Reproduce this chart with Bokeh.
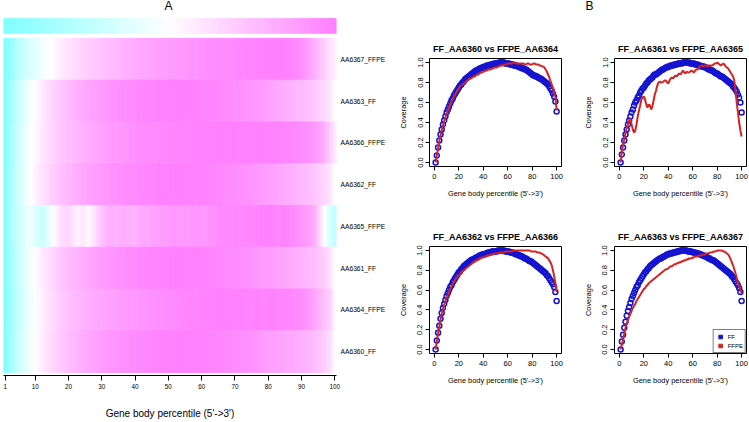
import numpy as np
from bokeh.plotting import figure
from bokeh.models import (ColumnDataSource, LinearColorMapper, FixedTicker, LinearAxis,
                          Range1d, Legend, LegendItem, PrintfTickFormatter)
from bokeh.transform import transform
from bokeh.layouts import row, column
from bokeh.embed import file_html
from bokeh.resources import INLINE
from bokeh.core.properties import value

# ---------------- data ----------------
PERCENTILE = list(range(1, 101))

FF_AA6360 = [0.00,0.07,0.15,0.22,0.28,0.33,0.38,0.42,0.46,0.50,
             0.53,0.56,0.59,0.62,0.64,0.67,0.69,0.71,0.73,0.75,
             0.77,0.78,0.80,0.81,0.83,0.84,0.85,0.86,0.87,0.88,
             0.89,0.90,0.91,0.92,0.92,0.93,0.94,0.94,0.95,0.95,
             0.96,0.96,0.97,0.97,0.97,0.98,0.98,0.98,0.99,0.99,
             0.99,0.99,1.00,1.00,1.00,1.00,1.00,0.99,0.99,0.99,
             0.99,0.98,0.98,0.98,0.97,0.97,0.97,0.96,0.96,0.95,
             0.95,0.94,0.94,0.93,0.93,0.92,0.91,0.90,0.89,0.88,
             0.87,0.87,0.86,0.86,0.85,0.84,0.84,0.83,0.82,0.81,
             0.80,0.79,0.78,0.76,0.74,0.72,0.69,0.66,0.61,0.51]

FFPE_AA6364 = [0.00,0.07,0.14,0.21,0.27,0.32,0.37,0.41,0.45,0.49,
               0.52,0.55,0.58,0.61,0.63,0.66,0.68,0.70,0.72,0.74,
               0.76,0.77,0.78,0.79,0.80,0.81,0.82,0.83,0.84,0.84,
               0.85,0.86,0.86,0.87,0.88,0.88,0.89,0.90,0.90,0.91,
               0.91,0.92,0.92,0.93,0.93,0.93,0.94,0.94,0.95,0.95,
               0.95,0.96,0.96,0.97,0.97,0.97,0.98,0.98,0.98,0.99,
               0.99,0.99,0.99,0.99,1.00,1.00,0.99,0.99,0.99,0.99,
               0.99,0.99,0.99,0.98,0.98,0.99,0.99,0.98,0.98,0.98,
               0.99,0.99,0.98,0.98,0.98,0.97,0.97,0.96,0.96,0.95,
               0.93,0.91,0.88,0.85,0.81,0.78,0.74,0.70,0.66,0.52]

FF_AA6361 = [0.00,0.08,0.15,0.22,0.28,0.33,0.38,0.42,0.46,0.50,
             0.53,0.57,0.60,0.62,0.65,0.67,0.70,0.72,0.74,0.75,
             0.77,0.79,0.80,0.82,0.83,0.84,0.85,0.87,0.88,0.88,
             0.89,0.90,0.91,0.92,0.93,0.93,0.94,0.95,0.95,0.96,
             0.96,0.97,0.97,0.97,0.98,0.98,0.98,0.99,0.99,0.99,
             0.99,1.00,1.00,1.00,1.00,1.00,1.00,0.99,0.99,0.99,
             0.99,0.98,0.98,0.98,0.97,0.97,0.96,0.96,0.96,0.95,
             0.95,0.94,0.93,0.93,0.92,0.92,0.91,0.90,0.89,0.89,
             0.88,0.87,0.86,0.86,0.85,0.84,0.83,0.82,0.81,0.80,
             0.79,0.78,0.76,0.75,0.73,0.71,0.68,0.65,0.60,0.50]

FFPE_AA6365 = [0.00,0.10,0.18,0.23,0.30,0.34,0.38,0.42,0.44,0.38,
               0.33,0.30,0.32,0.38,0.46,0.52,0.57,0.63,0.65,0.66,
               0.63,0.58,0.55,0.58,0.57,0.53,0.56,0.62,0.68,0.72,
               0.77,0.80,0.81,0.80,0.80,0.81,0.82,0.82,0.80,0.79,
               0.82,0.84,0.85,0.84,0.86,0.87,0.86,0.88,0.89,0.88,
               0.90,0.92,0.90,0.89,0.91,0.90,0.90,0.91,0.92,0.91,
               0.90,0.92,0.93,0.93,0.95,0.96,0.97,0.97,0.96,0.97,
               0.97,0.96,0.97,0.97,0.97,0.97,0.98,0.99,0.99,1.00,
               0.99,0.98,0.97,0.98,0.99,0.98,0.96,0.95,0.94,0.92,
               0.90,0.88,0.86,0.82,0.72,0.60,0.50,0.40,0.32,0.26]

FF_AA6362 = [0.00,0.09,0.17,0.24,0.31,0.37,0.42,0.46,0.50,0.54,
             0.57,0.60,0.63,0.65,0.68,0.70,0.72,0.74,0.76,0.78,
             0.79,0.81,0.82,0.84,0.85,0.86,0.87,0.88,0.89,0.90,
             0.91,0.91,0.92,0.93,0.93,0.94,0.95,0.95,0.96,0.96,
             0.96,0.97,0.97,0.98,0.98,0.98,0.99,0.99,0.99,0.99,
             0.99,1.00,1.00,1.00,1.00,1.00,1.00,0.99,0.99,0.99,
             0.99,0.98,0.98,0.98,0.97,0.97,0.96,0.96,0.95,0.95,
             0.94,0.94,0.93,0.92,0.92,0.91,0.90,0.89,0.89,0.88,
             0.87,0.86,0.85,0.84,0.83,0.82,0.81,0.80,0.79,0.78,
             0.77,0.75,0.74,0.72,0.70,0.68,0.66,0.63,0.58,0.49]

FFPE_AA6366 = [0.00,0.08,0.16,0.23,0.30,0.36,0.41,0.45,0.49,0.52,
               0.55,0.58,0.61,0.63,0.66,0.68,0.70,0.72,0.73,0.75,
               0.76,0.78,0.79,0.80,0.81,0.82,0.83,0.84,0.85,0.86,
               0.87,0.88,0.89,0.90,0.90,0.91,0.92,0.92,0.93,0.93,
               0.94,0.94,0.95,0.95,0.95,0.96,0.96,0.96,0.97,0.97,
               0.97,0.97,0.98,0.98,0.98,0.98,0.98,0.99,0.99,0.99,
               0.99,0.99,0.99,1.00,1.00,1.00,1.00,1.00,1.00,1.00,
               1.00,1.00,1.00,1.00,1.00,1.00,1.00,1.00,0.99,0.99,
               0.99,0.99,0.99,0.98,0.98,0.98,0.97,0.97,0.96,0.95,
               0.94,0.93,0.92,0.90,0.88,0.85,0.80,0.74,0.67,0.58]

FF_AA6363 = [0.00,0.08,0.15,0.22,0.28,0.34,0.39,0.43,0.47,0.51,
             0.54,0.57,0.60,0.63,0.65,0.68,0.70,0.72,0.74,0.76,
             0.78,0.79,0.81,0.82,0.84,0.85,0.86,0.87,0.88,0.89,
             0.90,0.91,0.92,0.92,0.93,0.94,0.94,0.95,0.96,0.96,
             0.97,0.97,0.97,0.98,0.98,0.98,0.99,0.99,0.99,1.00,
             1.00,1.00,1.00,1.00,1.00,0.99,0.99,0.99,0.99,0.98,
             0.98,0.98,0.97,0.97,0.97,0.96,0.96,0.95,0.95,0.94,
             0.94,0.93,0.92,0.92,0.91,0.90,0.90,0.89,0.88,0.87,
             0.86,0.85,0.84,0.83,0.82,0.81,0.80,0.79,0.78,0.77,
             0.76,0.74,0.73,0.71,0.69,0.67,0.65,0.62,0.58,0.49]

FFPE_AA6367 = [0.00,0.05,0.10,0.16,0.22,0.26,0.30,0.33,0.36,0.39,
               0.42,0.44,0.46,0.49,0.51,0.53,0.55,0.57,0.59,0.61,
               0.62,0.64,0.65,0.67,0.68,0.69,0.70,0.71,0.72,0.73,
               0.74,0.75,0.76,0.77,0.78,0.79,0.80,0.81,0.81,0.82,
               0.83,0.84,0.84,0.85,0.86,0.86,0.87,0.87,0.88,0.88,
               0.89,0.89,0.90,0.90,0.91,0.91,0.92,0.92,0.92,0.93,
               0.93,0.94,0.94,0.94,0.95,0.95,0.95,0.96,0.96,0.96,
               0.97,0.97,0.97,0.98,0.98,0.98,0.99,0.99,0.99,1.00,
               1.00,1.00,1.00,1.00,0.99,0.99,0.98,0.97,0.96,0.94,
               0.91,0.88,0.85,0.81,0.77,0.72,0.68,0.64,0.60,0.57]

HEATMAP_ROWS = ["AA6367_FFPE", "AA6363_FF", "AA6366_FFPE", "AA6362_FF",
                "AA6365_FFPE", "AA6361_FF", "AA6364_FFPE", "AA6360_FF"]
SERIES = {"AA6360_FF": FF_AA6360, "AA6364_FFPE": FFPE_AA6364,
          "AA6361_FF": FF_AA6361, "AA6365_FFPE": FFPE_AA6365,
          "AA6362_FF": FF_AA6362, "AA6366_FFPE": FFPE_AA6366,
          "AA6363_FF": FF_AA6363, "AA6367_FFPE": FFPE_AA6367}
PAIRS = [("FF_AA6360 vs FFPE_AA6364", FF_AA6360, FFPE_AA6364),
         ("FF_AA6361 vs FFPE_AA6365", FF_AA6361, FFPE_AA6365),
         ("FF_AA6362 vs FFPE_AA6366", FF_AA6362, FFPE_AA6366),
         ("FF_AA6363 vs FFPE_AA6367", FF_AA6363, FFPE_AA6367)]
HEAT_X_TICKS = [1, 10, 20, 30, 40, 50, 60, 70, 80, 90, 100]
CURVE_X_TICKS = [0, 20, 40, 60, 80, 100]
CURVE_Y_TICKS = [0.0, 0.2, 0.4, 0.6, 0.8, 1.0]
XLABEL = "Gene body percentile (5'->3')"
LEGEND_LABELS = ["FF", "FFPE"]

# ---------------- style ----------------
FONT = "Liberation Sans"
BLUE = "#1414D0"
RED = "#D42424"


def cm_colors(n):
    """R's cm.colors palette (cyan -> white -> magenta)."""
    even = (n % 2 == 0)
    k = n // 2
    l1 = k + 1 - int(even)
    l2 = n - k + int(even)

    def hx(r, g, b):
        return "#%02X%02X%02X" % tuple(int(255 * c + 0.5) for c in (r, g, b))
    cols = []
    end1 = 0.5 / k if even else 0.0
    for s in np.linspace(0.5, end1, l1):
        cols.append(hx(1 - s, 1, 1))
    for s in np.linspace(0.0, 0.5, l2)[1:]:
        cols.append(hx(1, 1 - s, 1))
    return cols


# ---------------- header (panel letters) ----------------
header = figure(width=748, height=14, x_range=Range1d(0, 748), y_range=Range1d(0, 14),
                x_axis_location=None, y_axis_location=None, toolbar_location=None,
                output_backend="svg", min_border=0, outline_line_color=None)
header.grid.visible = False
header.text(x=[168, 589], y=[8.5, 8.5], text=["A", "B"], text_align="center",
            text_baseline="middle", text_font_size="12px", text_font=value(FONT),
            text_color="black")

# ---------------- left: heatmap ----------------
nrows = len(HEATMAP_ROWS)
hx_, hy_, hv_ = [], [], []
for i, name in enumerate(HEATMAP_ROWS):
    for p, v in zip(PERCENTILE, SERIES[name]):
        hx_.append(p)
        hy_.append(nrows - i - 0.5)
        hv_.append(v)
heat_src = ColumnDataSource(dict(x=hx_, y=hy_, v=hv_))
heat_mapper = LinearColorMapper(palette=cm_colors(256), low=min(hv_), high=max(hv_))

bar_src = ColumnDataSource(dict(x=PERCENTILE, y=[8.298] * len(PERCENTILE), v=PERCENTILE))
bar_mapper = LinearColorMapper(palette=cm_colors(100), low=0.5, high=100.5)

left = figure(width=390, height=407, x_range=Range1d(0.5, 100.5), y_range=Range1d(-0.071, 8.571),
              y_axis_location=None, toolbar_location=None, output_backend="svg",
              min_border_left=3, min_border_right=54, min_border_top=0, min_border_bottom=44,
              outline_line_color=None)
left.grid.visible = False
left.rect(x="x", y="y", width=1, height=1, source=heat_src,
          fill_color=transform("v", heat_mapper), line_color=transform("v", heat_mapper),
          line_width=0.8)
left.rect(x="x", y="y", width=1, height=0.357, source=bar_src,
          fill_color=transform("v", bar_mapper), line_color=transform("v", bar_mapper),
          line_width=0.8)

xa = left.xaxis[0]
xa.ticker = FixedTicker(ticks=HEAT_X_TICKS)
xa.minor_tick_line_color = None
xa.major_tick_out = 5
xa.major_tick_in = 0
xa.major_label_standoff = 3
xa.major_label_text_font_size = "6.3px"
xa.major_label_text_font = FONT
xa.major_label_text_color = "black"
xa.axis_line_color = "black"
xa.major_tick_line_color = "black"
xa.axis_label = XLABEL
xa.axis_label_text_font = FONT
xa.axis_label_text_font_size = "10px"
xa.axis_label_text_font_style = "normal"
xa.axis_label_text_color = "black"
xa.axis_label_standoff = 16

row_ticks = [nrows - i - 0.5 for i in range(nrows)]
ra = LinearAxis(ticker=FixedTicker(ticks=row_ticks),
                major_label_overrides={t: n for t, n in zip(row_ticks, HEATMAP_ROWS)})
ra.axis_line_color = None
ra.major_tick_line_color = None
ra.minor_tick_line_color = None
ra.major_tick_out = 0
ra.major_tick_in = 0
ra.major_label_standoff = 4
ra.major_label_text_font_size = "6.7px"
ra.major_label_text_font = FONT
ra.major_label_text_color = "black"
left.add_layout(ra, "right")


# ---------------- right: curves ----------------
def curve_fig(title, ff, ffpe, width, height, bl, br, bt, bb, with_legend=False):
    p = figure(width=width, height=height, x_range=Range1d(-4, 104), y_range=Range1d(-0.04, 1.04),
               toolbar_location=None, output_backend="svg",
               min_border_left=bl, min_border_right=br, min_border_top=bt, min_border_bottom=bb)
    p.grid.visible = False
    p.outline_line_color = "black"
    p.outline_line_width = 1
    p.outline_line_alpha = 1
    p.title.text = title
    p.title.text_font = FONT
    p.title.text_font_size = "9px"
    p.title.text_font_style = "bold"
    p.title.text_color = "black"
    p.title.align = "center"
    p.title.standoff = 9

    p.scatter(x=PERCENTILE, y=ff, marker="circle", size=5, fill_color=None,
              line_color=BLUE, line_width=1.5)
    p.line(x=PERCENTILE, y=ffpe, line_color=RED, line_width=2)

    for ax in (p.xaxis[0], p.yaxis[0]):
        ax.axis_line_color = None
        ax.minor_tick_line_color = None
        ax.major_tick_line_color = "black"
        ax.major_tick_out = 4
        ax.major_tick_in = 0
        ax.major_label_text_font = FONT
        ax.major_label_text_font_size = "7.5px"
        ax.major_label_text_color = "black"
        ax.axis_label_text_font = FONT
        ax.axis_label_text_font_size = "7.4px"
        ax.axis_label_text_font_style = "normal"
        ax.axis_label_text_color = "black"
        ax.axis_label_standoff = 7
    p.xaxis[0].ticker = FixedTicker(ticks=CURVE_X_TICKS)
    p.xaxis[0].major_label_standoff = 3
    p.xaxis[0].axis_label = XLABEL
    p.yaxis[0].ticker = FixedTicker(ticks=CURVE_Y_TICKS)
    p.yaxis[0].formatter = PrintfTickFormatter(format="%.1f")
    p.yaxis[0].major_label_orientation = "vertical"
    p.yaxis[0].major_label_standoff = 3
    p.yaxis[0].axis_label = "Coverage"

    if with_legend:
        nan = float("nan")
        lf = p.scatter(x=[nan], y=[nan], marker="square", fill_color=BLUE, line_color=BLUE)
        lr = p.scatter(x=[nan], y=[nan], marker="square", fill_color=RED, line_color=RED)
        leg = Legend(items=[LegendItem(label=LEGEND_LABELS[0], renderers=[lf], index=0),
                            LegendItem(label=LEGEND_LABELS[1], renderers=[lr], index=0)],
                     location="bottom_right", margin=0, padding=2, spacing=0,
                     glyph_width=9, glyph_height=9, label_height=9, label_width=14,
                     label_standoff=3, label_text_font_size="6px", label_text_font=FONT,
                     label_text_color="black", border_line_color="black",
                     border_line_width=1, background_fill_alpha=1)
        p.add_layout(leg, "center")
    return p


f1 = curve_fig(PAIRS[0][0], PAIRS[0][1], PAIRS[0][2], 185, 197, 39, 14, 44, 45)
f2 = curve_fig(PAIRS[1][0], PAIRS[1][1], PAIRS[1][2], 173, 197, 39, 2, 44, 45)
f3 = curve_fig(PAIRS[2][0], PAIRS[2][1], PAIRS[2][2], 185, 210, 39, 14, 35, 68)
f4 = curve_fig(PAIRS[3][0], PAIRS[3][1], PAIRS[3][2], 173, 210, 39, 2, 35, 68, with_legend=True)

layout = column(header, row(left, column(row(f1, f2), row(f3, f4))))

open("out.html", "w").write(file_html(layout, INLINE))
